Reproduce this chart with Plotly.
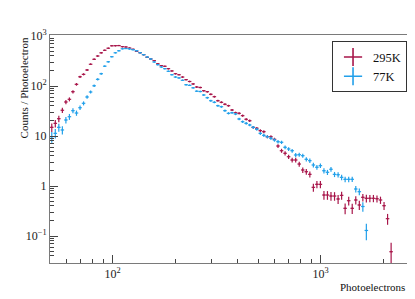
import plotly.graph_objects as go

# Bin centres (photoelectrons), log-spaced histogram bins
bin_centers = [50.99, 53.02, 55.13, 57.33, 59.62, 61.99, 64.46, 67.03, 69.71, 72.49,
               75.38, 78.38, 81.51, 84.76, 88.14, 91.65, 95.31, 99.15, 103.1, 107.2,
               111.5, 115.9, 120.6, 125.4, 130.4, 135.6, 141.0, 146.6, 152.5, 158.5,
               164.9, 171.5, 178.3, 185.4, 192.8, 200.5, 208.5, 216.8, 225.5, 234.5,
               243.8, 253.6, 263.7, 274.2, 285.2, 296.5, 308.4, 320.6, 333.4, 346.7,
               360.6, 375.0, 389.9, 405.5, 421.7, 438.5, 456.0, 474.2, 493.2, 512.8,
               533.3, 554.6, 576.7, 599.8, 623.7, 648.6, 674.5, 701.4, 729.4, 758.6,
               788.8, 820.3, 853.1, 887.1, 922.5, 959.3, 997.0, 1037, 1078, 1121,
               1166, 1213, 1261, 1311, 1364, 1418, 1475, 1534, 1595, 1658,
               1724, 1793, 1865, 1939, 2017, 2097, 2181]

# 295K series: counts / photoelectron
y_295K = [14.9, 17.9, 22.2, 32.7, 47.9, 54.2, 76.9, 108, 153, 171,
          209, 272, 342, 398, 461, 518, 570, 637, 640, 643,
          611, 603, 575, 542, 494, 463, 423, 375, 347, 321,
          279, 255, 248, 222, 200, 176, 168, 151, 134, 123,
          110, 95.5, 93.3, 80.5, 76.9, 68.2, 61.1, 50.8, 47.2, 43.1,
          40.4, 33.1, 29.2, 28.4, 25.5, 21.6, 20.2, 14.9, 14.3, 12.8,
          12.2, 9.68, 9.68, 8.59, 6.31, 5.08, 4.51, 3.85, 3.31, 3.31,
          2.75, 2.09, 1.93, 1.71, 0.94, 1.08, 1.08, 0.66, 0.66, 0.63,
          0.63, 0.55, 0.65, 0.358, 0.508, 0.358, 0.525, 0.417, 0.594, 0.568,
          0.568, 0.568, 0.557, 0.525, 0.404, 0.222, 0.0485]

# relative statistical uncertainty of each 295K bin
relerr_295K = [0.19, 0.17, 0.15, 0.12, 0.099, 0.091, 0.075, 0.062, 0.051, 0.047,
               0.042, 0.036, 0.032, 0.029, 0.026, 0.024, 0.023, 0.021, 0.021, 0.020,
               0.020, 0.020, 0.020, 0.020, 0.021, 0.021, 0.022, 0.023, 0.023, 0.023,
               0.025, 0.025, 0.025, 0.026, 0.027, 0.028, 0.028, 0.029, 0.030, 0.031,
               0.032, 0.034, 0.034, 0.036, 0.036, 0.037, 0.039, 0.041, 0.042, 0.043,
               0.044, 0.047, 0.049, 0.049, 0.051, 0.054, 0.055, 0.063, 0.063, 0.065,
               0.065, 0.072, 0.071, 0.074, 0.084, 0.092, 0.096, 0.10, 0.11, 0.105,
               0.113, 0.128, 0.13, 0.136, 0.18, 0.164, 0.161, 0.20, 0.198, 0.199,
               0.195, 0.205, 0.185, 0.243, 0.20, 0.235, 0.19, 0.209, 0.171, 0.172,
               0.169, 0.166, 0.164, 0.166, 0.185, 0.245, 0.51]

# 77K series
y_77K = [9.68, 11.3, 14.9, 13.2, 20.9, 24.3, 32.1, 28.8, 36.8, 45.1,
         60.3, 75.9, 101, 136, 176, 249, 305, 385, 461, 506,
         555, 562, 550, 532, 508, 463, 423, 380, 347, 302,
         267, 240, 222, 197, 168, 151, 145, 130, 106, 103,
         92, 78.7, 77.6, 66.1, 58.3, 50.8, 47.2, 40.4, 38.5, 32.1,
         28.4, 29.2, 27.5, 21.9, 19.3, 17.9, 16.6, 14.9, 13.6, 11.3,
         10.3, 9.68, 8.99, 8.32, 7.69, 7.48, 5.94, 5.50, 5.08, 4.17,
         4.23, 4.04, 3.42, 3.21, 2.63, 2.37, 2.55, 2.02, 1.88, 2.16,
         1.71, 1.68, 1.49, 1.36, 1.36, 1.36, 0.871, 0.769, 0.389, 0.129]

relerr_77K = [0.24, 0.215, 0.184, 0.192, 0.15, 0.136, 0.116, 0.12, 0.104, 0.092,
              0.078, 0.068, 0.058, 0.049, 0.042, 0.035, 0.031, 0.027, 0.024, 0.023,
              0.021, 0.021, 0.020, 0.020, 0.020, 0.021, 0.022, 0.022, 0.023, 0.024,
              0.025, 0.026, 0.027, 0.028, 0.029, 0.030, 0.030, 0.031, 0.034, 0.034,
              0.035, 0.037, 0.037, 0.039, 0.041, 0.043, 0.044, 0.046, 0.047, 0.05,
              0.052, 0.05, 0.051, 0.056, 0.059, 0.06, 0.061, 0.063, 0.064, 0.069,
              0.071, 0.072, 0.073, 0.075, 0.076, 0.076, 0.083, 0.085, 0.087, 0.094,
              0.091, 0.092, 0.098, 0.099, 0.107, 0.111, 0.105, 0.115, 0.117, 0.107,
              0.118, 0.117, 0.122, 0.125, 0.123, 0.12, 0.147, 0.154, 0.212, 0.36]

y_tickvals = [0.1, 1, 10, 100, 1000]
y_ticktext = ["10<sup>\u22121</sup>", "1", "10", "10<sup>2</sup>", "10<sup>3</sup>"]
x_tickvals = [100, 1000]
x_ticktext = ["10<sup>2</sup>", "10<sup>3</sup>"]

RED = "#a8164a"
BLUE = "#22a0ea"
FONT = "Liberation Serif"

fig = go.Figure()


def add_series(x, y, rel, color, name):
    err = [v * r for v, r in zip(y, rel)]
    fig.add_trace(go.Scatter(
        x=x[:len(y)], y=y, mode="markers", showlegend=False,
        marker=dict(color=color, size=1.5),
        error_y=dict(type="data", array=err, visible=True, color=color, thickness=1.2, width=0),
        error_x=dict(type="percent", value=1.96, visible=True, color=color, thickness=1.2, width=0),
    ))
    fig.add_trace(go.Scatter(
        x=[None], y=[None], mode="markers", name=name, showlegend=True,
        marker=dict(symbol="cross-thin", size=13, color=color, line=dict(color=color, width=1.6)),
    ))


add_series(bin_centers, y_295K, relerr_295K, RED, "295K")
add_series(bin_centers, y_77K, relerr_77K, BLUE, "77K")

axis_common = dict(
    showgrid=False, zeroline=False, showline=True, linecolor="#7a7a7a", linewidth=1,
    mirror=True, ticks="inside", tickcolor="#444", tickwidth=1, automargin=False,
    tickfont=dict(family=FONT, size=12, color="#222"),
)

fig.update_xaxes(type="log", range=[1.69897, 3.415], tickvals=x_tickvals, ticktext=x_ticktext,
                 ticklen=8, minor=dict(ticks="inside", ticklen=4, dtick="D1", tickcolor="#444", showgrid=False),
                 **axis_common)
fig.update_yaxes(type="log", range=[-1.54, 3.02], tickvals=y_tickvals, ticktext=y_ticktext,
                 ticklen=8, minor=dict(ticks="inside", ticklen=4, dtick="D1", tickcolor="#444", showgrid=False),
                 **axis_common)

# page body adds an 8px margin, so the figure is 8px smaller on each side
fig.update_layout(
    width=407, height=291,
    margin=dict(l=42, r=8, t=27, b=36, autoexpand=False),
    paper_bgcolor="white", plot_bgcolor="white",
    font=dict(family=FONT, size=12, color="#111"),
    legend=dict(x=0.79, y=0.972, xanchor="left", yanchor="top",
                bordercolor="#333", borderwidth=1, bgcolor="white",
                font=dict(family=FONT, size=12.5, color="#111"),
                itemsizing="trace", tracegroupgap=3),
    annotations=[
        dict(text="Photoelectrons", xref="paper", yref="paper", x=1.0, y=-0.105,
             xanchor="right", yanchor="middle", showarrow=False,
             font=dict(family=FONT, size=11, color="#111")),
        dict(text="Counts / Photoelectron", xref="paper", yref="paper", x=-0.073, y=1.0,
             xanchor="center", yanchor="top", textangle=-90, showarrow=False,
             font=dict(family=FONT, size=11, color="#111")),
    ],
)

fig.write_html("out.html")
